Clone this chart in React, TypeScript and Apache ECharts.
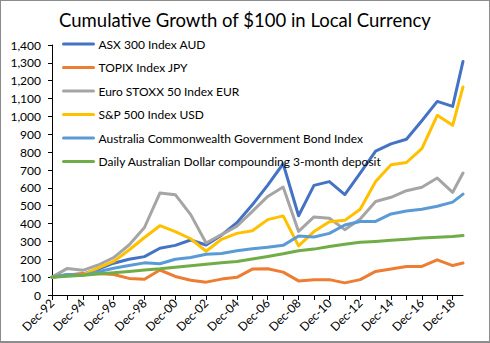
import React, { useEffect, useRef } from "react";
import * as echarts from "echarts";

const seriesNames = [
  "ASX 300 Index AUD",
  "TOPIX Index JPY",
  "Euro STOXX 50 Index EUR",
  "S&P 500 Index USD",
  "Australia Commonwealth Government Bond Index",
  "Daily Australian Dollar compounding 3-month deposit",
];
const seriesColors = ["#4472C4", "#ED7D31", "#A5A5A5", "#FFC000", "#5B9BD5", "#70AD47"];

// years since Dec-92 (last observation part-way through 2019)
const periods = [0, 1, 2, 3, 4, 5, 6, 7, 8, 9, 10, 11, 12, 13, 14, 15, 16, 17, 18, 19, 20, 21, 22, 23, 24, 25, 26, 26.67];

const asx300 = [100, 113, 117, 145, 178, 200, 215, 262, 278, 308, 280, 335, 405, 505, 615, 735, 444, 614, 635, 562, 683, 806, 846, 872, 976, 1084, 1056, 1308];
const topix = [100, 110, 120, 121, 115, 93, 88, 140, 104, 83, 72, 89, 99, 145, 147, 128, 79, 86, 86, 68, 86, 132, 146, 160, 160, 197, 165, 179];
const euroStoxx = [100, 149, 138, 168, 209, 280, 378, 571, 562, 450, 291, 338, 385, 468, 552, 605, 356, 437, 430, 366, 425, 524, 547, 584, 603, 655, 575, 683];
const sp500 = [100, 110, 112, 152, 188, 252, 322, 388, 355, 315, 245, 312, 345, 360, 422, 443, 275, 355, 410, 418, 480, 636, 730, 742, 820, 1006, 950, 1165];
const govBond = [100, 115, 110, 130, 150, 165, 180, 175, 200, 210, 228, 232, 248, 259, 268, 278, 330, 325, 345, 392, 412, 412, 454, 470, 480, 497, 520, 565];
const cashDeposit = [100, 105, 110, 117, 125, 132, 140, 147, 156, 164, 172, 180, 188, 202, 216, 231, 248, 257, 272, 284, 295, 300, 306, 312, 319, 323, 328, 333];

const xTickValues = [0, 1, 2, 3, 4, 5, 6, 7, 8, 9, 10, 11, 12, 13, 14, 15, 16, 17, 18, 19, 20, 21, 22, 23, 24, 25, 26];
const xLabelValues = [0, 2, 4, 6, 8, 10, 12, 14, 16, 18, 20, 22, 24, 26];
const startYear = 92;

const allSeries = [asx300, topix, euroStoxx, sp500, govBond, cashDeposit];

export default function App() {
  const ref = useRef<HTMLDivElement>(null);
  useEffect(() => {
    if (!ref.current) return;
    const chart = echarts.init(ref.current, null, { renderer: "svg" });
    const font = "Lato, 'Open Sans', sans-serif";
    chart.setOption({
      animation: false,
      backgroundColor: "#ffffff",
      textStyle: { fontFamily: font },
      title: {
        text: "Cumulative Growth of $100 in Local Currency",
        left: "center",
        top: 5,
        textStyle: { fontFamily: font, fontSize: 18.5, fontWeight: "normal", color: "#000000" },
      },
      legend: {
        orient: "vertical",
        left: 62,
        top: 38,
        padding: 0,
        itemWidth: 30,
        itemHeight: 14,
        itemGap: 11.5,
        data: seriesNames,
        itemStyle: { opacity: 0 },
        lineStyle: { width: 3 },
        textStyle: { fontFamily: font, fontSize: 12, color: "#000000" },
      },
      grid: { left: 52, right: 27, top: 45, bottom: 48, containLabel: false },
      xAxis: {
        type: "value",
        min: 0,
        max: 26.67,
        interval: 1,
        splitLine: { show: false },
        axisLine: { show: true, lineStyle: { color: "#000000", width: 1 } },
        axisTick: { show: true, length: 5, lineStyle: { color: "#000000" }, customValues: xTickValues },
        axisLabel: {
          rotate: 45,
          fontSize: 12,
          color: "#000000",
          fontFamily: font,
          margin: 6,
          customValues: xLabelValues,
          formatter: (v: number) => "Dec-" + String((startYear + Math.round(v)) % 100).padStart(2, "0"),
        },
      },
      yAxis: {
        type: "value",
        min: 0,
        max: 1400,
        interval: 100,
        splitLine: { show: false },
        axisLine: { show: true, lineStyle: { color: "#000000", width: 1 } },
        axisTick: { show: true, length: 4, lineStyle: { color: "#000000" } },
        axisLabel: {
          fontSize: 12,
          color: "#000000",
          fontFamily: font,
          margin: 11,
          formatter: (v: number) => v.toLocaleString("en-US"),
        },
      },
      series: allSeries.map((vals, i) => ({
        name: seriesNames[i],
        type: "line",
        symbol: "none",
        data: vals.map((v, j) => [periods[j], v]),
        lineStyle: { color: seriesColors[i], width: 3, join: "round", cap: "round" },
        itemStyle: { color: seriesColors[i] },
      })),
    });
    return () => chart.dispose();
  }, []);
  return (
    <div style={{ position: "fixed", left: 0, top: 0, width: 490, height: 343 }}>
      <div ref={ref} style={{ position: "absolute", left: 0, top: 0, width: 490, height: 343 }} />
      <div
        style={{
          position: "absolute",
          left: 0,
          top: 0,
          width: 490,
          height: 343,
          boxSizing: "border-box",
          border: "1px solid #8c8c8c",
          borderBottomWidth: 2,
          pointerEvents: "none",
        }}
      />
    </div>
  );
}
